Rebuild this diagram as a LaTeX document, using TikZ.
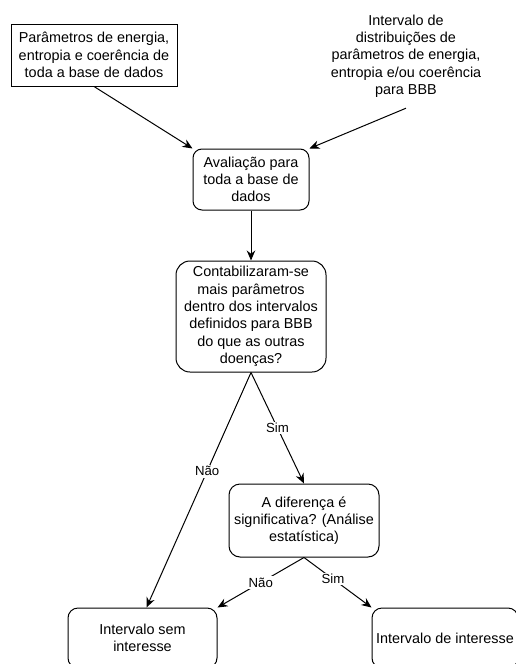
\documentclass[tikz,border=0pt]{standalone}
\usepackage{fontspec}
\setmainfont{Liberation Sans}
\usetikzlibrary{arrows.meta}
\begin{document}
\begin{tikzpicture}[x=1pt,y=-1pt,
  every node/.style={font=\fontsize{14.4}{17.3}\selectfont, align=center, inner sep=0pt},
  sqbox/.style={draw, line width=1pt},
  rbox/.style={draw, line width=1pt, rounded corners=#1},
  arr/.style={draw, line width=1pt, -{Stealth[length=10pt,width=8.5pt]}},
  lbl/.style={fill=white, inner sep=1.5pt, font=\fontsize{13.2}{15.8}\selectfont}]
\useasboundingbox (0,0) rectangle (515,664);
\node[sqbox, minimum width=166pt, minimum height=62pt] (tl) at (94,55)
  {Parâmetros de energia,\\entropia e coerência de\\toda a base de dados};
\node[minimum height=104pt] (tr) at (406,56)
  {Intervalo de\\distribuições de\\parâmetros de energia,\\entropia e/ou coerência\\para BBB};
\node[rbox=9pt, minimum width=116pt, minimum height=61pt] (b1) at (251,179.5)
  {Avaliação para\\toda a base de\\dados};
\node[rbox=14pt, minimum width=150pt, minimum height=111pt] (b2) at (251,316.5)
  {Contabilizaram-se\\mais parâmetros\\dentro dos intervalos\\definidos para BBB\\do que as outras\\doenças?};
\node[rbox=11pt, minimum width=150pt, minimum height=73pt] (b3) at (304,520.5)
  {A diferença é\\significativa? (Análise\\estatística)};
\node[rbox=10pt, minimum width=149pt, minimum height=60pt] (b4) at (142.5,638)
  {Intervalo sem\\interesse};
\node[rbox=10pt, minimum width=146pt, minimum height=60pt] (b5) at (445,638)
  {Intervalo de interesse};
\draw[arr] (tl.south) -- (b1.north west);
\draw[arr] (tr.south) -- (b1.north east);
\draw[arr] (b1.south) -- (b2.north);
\draw[arr] (b2.south) -- node[lbl, pos=0.42] {Não} ([xshift=4pt]b4.north);
\draw[arr] (b2.south) -- node[lbl] {Sim} (b3.north);
\draw[arr] (b3.south) -- node[lbl] {Não} (b4.north east);
\draw[arr] (b3.south) -- node[lbl, pos=0.43] {Sim} (b5.north west);
\end{tikzpicture}
\end{document}
